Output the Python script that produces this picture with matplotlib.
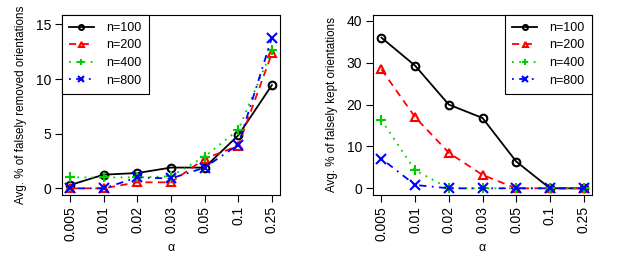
import matplotlib
matplotlib.use("Agg")
import matplotlib.pyplot as plt

alphas = ["0.005", "0.01", "0.02", "0.03", "0.05", "0.1", "0.25"]
labels = ["n=100", "n=200", "n=400", "n=800"]

removed_n100 = [0.3, 1.25, 1.4, 1.9, 1.9, 4.85, 9.45]
removed_n200 = [0.0, 0.0, 0.55, 0.55, 2.7, 3.9, 12.35]
removed_n400 = [1.0, 1.0, 1.0, 1.1, 2.9, 5.35, 12.65]
removed_n800 = [0.0, 0.0, 1.0, 0.9, 1.9, 4.0, 13.8]

kept_n100 = [36.0, 29.3, 20.0, 16.8, 6.4, 0.0, 0.0]
kept_n200 = [28.4, 17.0, 8.5, 3.2, 0.0, 0.0, 0.0]
kept_n400 = [16.3, 4.3, 0.0, 0.0, 0.0, 0.0, 0.0]
kept_n800 = [7.1, 0.8, 0.0, 0.0, 0.0, 0.0, 0.0]

plt.rcParams['font.family'] = ['Liberation Sans', 'DejaVu Sans']
plt.rcParams['font.size'] = 10

styles = [
    dict(color='black', linestyle='-', marker='o', mfc='none'),
    dict(color='#FF0000', linestyle=(0, (4, 3)), marker='^', mfc='none'),
    dict(color='#00CD00', linestyle=(0, (1, 3)), marker='+'),
    dict(color='#0000FF', linestyle=(0, (1, 3, 4, 3)), marker='x'),
]

fig = plt.figure(figsize=(6.23, 2.73), dpi=100)
ax1 = fig.add_axes([62/623, 78/273, 218/623, 180/273])
ax2 = fig.add_axes([373.3/623, 78/273, 218.4/623, 180/273])

x = list(range(1, len(alphas) + 1))

def draw(ax, series, ylim, yticks, ylabel, loc):
    for s, lab, st in zip(series, labels, styles):
        ms = 7 if st['marker'] in ('+', 'x') else 5.5
        ax.plot(x, s, label=lab, lw=1.3, ms=ms, mew=1.5, **st)
    ax.set_xlim(0.76, 7.24)
    ax.set_ylim(*ylim)
    ax.set_xticks(x)
    ax.set_xticklabels(alphas, rotation=90)
    ax.set_yticks(yticks)
    ax.set_xlabel("α", fontsize=9, labelpad=1)
    ax.set_ylabel(ylabel, fontsize=8.4, labelpad=6)
    ax.tick_params(direction='out', length=5, width=0.8, colors='black', pad=3,
                   labelsize=10)
    for sp in ax.spines.values():
        sp.set_linewidth(0.8)
    leg = ax.legend(loc=loc, borderaxespad=0, fancybox=False, edgecolor='black',
                    framealpha=1, handlelength=2.0, handletextpad=1.0,
                    labelspacing=0.45, borderpad=0.55, markerscale=0.65,
                    fontsize=9)
    leg.get_frame().set_linewidth(0.8)

draw(ax1, [removed_n100, removed_n200, removed_n400, removed_n800],
     (-0.61, 15.86), [0, 5, 10, 15], "Avg. % of falsely removed orientations", 'upper left')
draw(ax2, [kept_n100, kept_n200, kept_n400, kept_n800],
     (-1.6, 41.4), [0, 10, 20, 30, 40], "Avg. % of falsely kept orientations", 'upper right')

fig.savefig("out.png", dpi=100)
